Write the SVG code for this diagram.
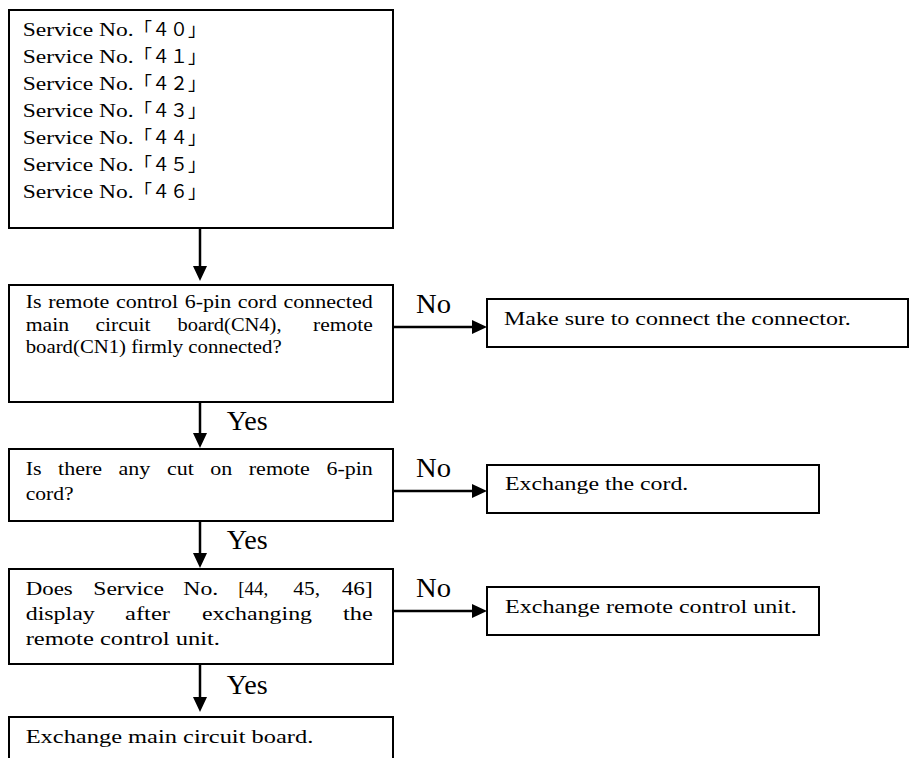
<svg xmlns="http://www.w3.org/2000/svg" width="910" height="758" viewBox="0 0 910 758">
<style>
.box{fill:#fff;stroke:#000;stroke-width:2}
.t{font-family:"Liberation Serif","Times New Roman",serif;font-size:18px;fill:#000}
.j{font-family:"Noto Sans CJK JP","Noto Sans",sans-serif;font-size:18px;fill:#000}
.lab{font-family:"Liberation Serif","Times New Roman",serif;font-size:28px;fill:#000}
.c{fill:none;stroke:#000;stroke-width:2.5}
</style>
<defs>
<marker id="ah" viewBox="0 0 15 14" refX="7" refY="7" markerWidth="15" markerHeight="14" markerUnits="userSpaceOnUse" orient="auto">
<path d="M0,0 L15,7 L0,14 z" fill="#000"/>
</marker>
</defs>
<rect x="0" y="0" width="910" height="758" fill="#fff"/>

<g id="n1">
<rect class="box" x="9" y="10" width="384" height="218"/>
<text class="t" x="22.7" y="36" textLength="111" lengthAdjust="spacingAndGlyphs">Service No.</text><text class="j" x="134" y="36">「４０」</text>
<text class="t" x="22.7" y="63" textLength="111" lengthAdjust="spacingAndGlyphs">Service No.</text><text class="j" x="134" y="63">「４１」</text>
<text class="t" x="22.7" y="90" textLength="111" lengthAdjust="spacingAndGlyphs">Service No.</text><text class="j" x="134" y="90">「４２」</text>
<text class="t" x="22.7" y="117" textLength="111" lengthAdjust="spacingAndGlyphs">Service No.</text><text class="j" x="134" y="117">「４３」</text>
<text class="t" x="22.7" y="144" textLength="111" lengthAdjust="spacingAndGlyphs">Service No.</text><text class="j" x="134" y="144">「４４」</text>
<text class="t" x="22.7" y="171" textLength="111" lengthAdjust="spacingAndGlyphs">Service No.</text><text class="j" x="134" y="171">「４５」</text>
<text class="t" x="22.7" y="198" textLength="111" lengthAdjust="spacingAndGlyphs">Service No.</text><text class="j" x="134" y="198">「４６」</text>
</g>

<g id="n2">
<rect class="box" x="9" y="285" width="384" height="117"/>
<text class="t" x="25.7" y="308" textLength="15.9" lengthAdjust="spacingAndGlyphs">Is</text>
<text class="t" x="48.2" y="308" textLength="61.1" lengthAdjust="spacingAndGlyphs">remote</text>
<text class="t" x="115.9" y="308" textLength="62.3" lengthAdjust="spacingAndGlyphs">control</text>
<text class="t" x="184.8" y="308" textLength="46.4" lengthAdjust="spacingAndGlyphs">6-pin</text>
<text class="t" x="237.8" y="308" textLength="39.1" lengthAdjust="spacingAndGlyphs">cord</text>
<text class="t" x="283.5" y="308" textLength="89.2" lengthAdjust="spacingAndGlyphs">connected</text>
<text class="t" x="25.7" y="330.5" textLength="43.5" lengthAdjust="spacingAndGlyphs">main</text>
<text class="t" x="95.5" y="330.5" textLength="55" lengthAdjust="spacingAndGlyphs">circuit</text>
<text class="t" x="177.5" y="330.5" textLength="104" lengthAdjust="spacingAndGlyphs">board(CN4),</text>
<text class="t" x="313" y="330.5" textLength="59.7" lengthAdjust="spacingAndGlyphs">remote</text>
<text class="t" x="25.7" y="352.5" textLength="256" lengthAdjust="spacingAndGlyphs">board(CN1) firmly connected?</text>
</g>

<g id="n3">
<rect class="box" x="487" y="299" width="421" height="48"/>
<text class="t" x="504" y="324.5" textLength="346.7" lengthAdjust="spacingAndGlyphs">Make sure to connect the connector.</text>
</g>

<g id="n4">
<rect class="box" x="9" y="449" width="384" height="72"/>
<text class="t" x="25.7" y="475" textLength="15.9" lengthAdjust="spacingAndGlyphs">Is</text>
<text class="t" x="58.1" y="475" textLength="44" lengthAdjust="spacingAndGlyphs">there</text>
<text class="t" x="118.6" y="475" textLength="31.8" lengthAdjust="spacingAndGlyphs">any</text>
<text class="t" x="166.9" y="475" textLength="26.9" lengthAdjust="spacingAndGlyphs">cut</text>
<text class="t" x="210.3" y="475" textLength="22" lengthAdjust="spacingAndGlyphs">on</text>
<text class="t" x="248.8" y="475" textLength="61.1" lengthAdjust="spacingAndGlyphs">remote</text>
<text class="t" x="326.4" y="475" textLength="46.4" lengthAdjust="spacingAndGlyphs">6-pin</text>
<text class="t" x="25.7" y="500" textLength="48" lengthAdjust="spacingAndGlyphs">cord?</text>
</g>

<g id="n5">
<rect class="box" x="487" y="465" width="332" height="48"/>
<text class="t" x="505" y="490" textLength="183.3" lengthAdjust="spacingAndGlyphs">Exchange the cord.</text>
</g>

<g id="n6">
<rect class="box" x="9" y="569" width="384" height="95"/>
<text class="t" x="25.7" y="595" textLength="47" lengthAdjust="spacingAndGlyphs">Does</text>
<text class="t" x="93.3" y="595" textLength="70.7" lengthAdjust="spacingAndGlyphs">Service</text>
<text class="t" x="183.3" y="595" textLength="35" lengthAdjust="spacingAndGlyphs">No.</text>
<text class="t" x="238.3" y="595" textLength="30" lengthAdjust="spacingAndGlyphs">[44,</text>
<text class="t" x="293.3" y="595" textLength="26.7" lengthAdjust="spacingAndGlyphs">45,</text>
<text class="t" x="341.7" y="595" textLength="31" lengthAdjust="spacingAndGlyphs">46]</text>
<text class="t" x="25.7" y="620" textLength="69" lengthAdjust="spacingAndGlyphs">display</text>
<text class="t" x="125" y="620" textLength="45" lengthAdjust="spacingAndGlyphs">after</text>
<text class="t" x="202" y="620" textLength="110" lengthAdjust="spacingAndGlyphs">exchanging</text>
<text class="t" x="343" y="620" textLength="29.7" lengthAdjust="spacingAndGlyphs">the</text>
<text class="t" x="25.7" y="645" textLength="194.3" lengthAdjust="spacingAndGlyphs">remote control unit.</text>
</g>

<g id="n7">
<rect class="box" x="487" y="587" width="332" height="48"/>
<text class="t" x="505" y="612.5" textLength="291.7" lengthAdjust="spacingAndGlyphs">Exchange remote control unit.</text>
</g>

<g id="n8">
<rect class="box" x="9" y="717" width="384" height="60"/>
<text class="t" x="25.7" y="742.5" textLength="287.6" lengthAdjust="spacingAndGlyphs">Exchange main circuit board.</text>
</g>

<g id="connectors">
<path class="c" d="M200,228 V273" marker-end="url(#ah)"/>
<path class="c" d="M393,327 H479" marker-end="url(#ah)"/>
<path class="c" d="M200,402 V440" marker-end="url(#ah)"/>
<path class="c" d="M393,491 H479" marker-end="url(#ah)"/>
<path class="c" d="M200,521 V560" marker-end="url(#ah)"/>
<path class="c" d="M393,611 H479" marker-end="url(#ah)"/>
<path class="c" d="M200,664 V704" marker-end="url(#ah)"/>
<text class="lab" x="416" y="313" textLength="35" lengthAdjust="spacingAndGlyphs">No</text>
<text class="lab" x="416" y="477" textLength="35" lengthAdjust="spacingAndGlyphs">No</text>
<text class="lab" x="416" y="597" textLength="35" lengthAdjust="spacingAndGlyphs">No</text>
<text class="lab" x="226.7" y="429.5" textLength="41" lengthAdjust="spacingAndGlyphs">Yes</text>
<text class="lab" x="226.7" y="548.5" textLength="41" lengthAdjust="spacingAndGlyphs">Yes</text>
<text class="lab" x="226.7" y="693.5" textLength="41" lengthAdjust="spacingAndGlyphs">Yes</text>
</g>
</svg>
